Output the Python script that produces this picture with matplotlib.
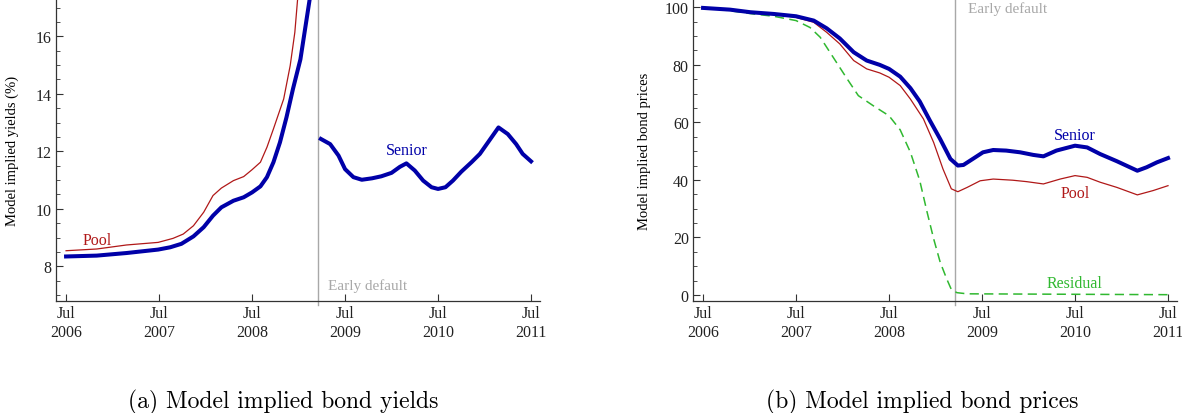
import numpy as np
import matplotlib.pyplot as plt
from matplotlib.ticker import MultipleLocator

# --- Data (decimal years, Jul = .5) ---
default_date = 2009.21

# (a) yields, %
pool_yield_t = [2006.50, 2006.83, 2007.15, 2007.49, 2007.65, 2007.76, 2007.87, 2007.98,
                2008.08, 2008.17, 2008.30, 2008.41, 2008.50, 2008.59, 2008.66, 2008.73,
                2008.84, 2008.91, 2008.96, 2008.99, 2009.03]
pool_yield = [8.54, 8.60, 8.74, 8.83, 8.97, 9.12, 9.41, 9.88,
              10.46, 10.72, 10.98, 11.12, 11.36, 11.62, 12.14, 12.78,
              13.82, 14.98, 16.14, 17.30, 18.6]

senior_yield_t = [2006.50, 2006.83, 2007.15, 2007.49, 2007.62, 2007.74, 2007.87, 2007.98,
                  2008.08, 2008.17, 2008.30, 2008.41, 2008.50, 2008.59, 2008.66, 2008.73,
                  2008.80, 2008.87, 2008.94, 2009.02, 2009.12, 2009.16]
senior_yield = [8.34, 8.37, 8.46, 8.58, 8.66, 8.78, 9.04, 9.36,
                9.76, 10.05, 10.28, 10.40, 10.57, 10.78, 11.10, 11.62,
                12.31, 13.18, 14.17, 15.20, 17.30, 18.5]

senior_yield_post_t = [2009.24, 2009.34, 2009.43, 2009.50, 2009.59, 2009.68, 2009.79, 2009.89,
                       2010.00, 2010.09, 2010.16, 2010.25, 2010.34, 2010.43, 2010.50, 2010.58,
                       2010.66, 2010.75, 2010.86, 2010.95, 2011.05, 2011.15, 2011.25, 2011.34,
                       2011.41, 2011.50]
senior_yield_post = [12.43, 12.25, 11.85, 11.38, 11.10, 11.01, 11.06, 11.13,
                     11.25, 11.46, 11.58, 11.33, 10.98, 10.75, 10.69, 10.75,
                     10.98, 11.29, 11.62, 11.91, 12.37, 12.83, 12.60, 12.25,
                     11.91, 11.65]

# (b) prices
senior_price_t = [2006.50, 2006.79, 2007.01, 2007.26, 2007.50, 2007.69, 2007.83, 2007.97,
                  2008.12, 2008.26, 2008.40, 2008.50, 2008.62, 2008.73, 2008.83, 2008.94,
                  2009.05, 2009.16, 2009.24, 2009.30, 2009.41, 2009.51, 2009.62, 2009.76,
                  2009.91, 2010.05, 2010.16, 2010.30, 2010.50, 2010.63, 2010.77, 2010.95,
                  2011.17, 2011.27, 2011.38, 2011.50]
senior_price = [99.8, 99.2, 98.3, 97.7, 96.9, 95.4, 92.7, 89.2,
                84.4, 81.5, 80.0, 78.6, 75.9, 71.9, 67.3, 60.6,
                54.2, 47.3, 45.0, 45.2, 47.5, 49.6, 50.4, 50.2,
                49.6, 48.7, 48.2, 50.2, 51.9, 51.3, 49.0, 46.5,
                43.2, 44.4, 46.1, 47.6]

pool_price_t = [2006.50, 2006.79, 2007.26, 2007.50, 2007.69, 2007.83, 2007.97, 2008.12,
                2008.26, 2008.40, 2008.50, 2008.62, 2008.73, 2008.87, 2008.98, 2009.08,
                2009.17, 2009.24, 2009.34, 2009.48, 2009.62, 2009.83, 2009.98, 2010.16,
                2010.34, 2010.50, 2010.63, 2010.77, 2010.95, 2011.17, 2011.34, 2011.50]
pool_price = [99.8, 99.2, 97.7, 96.5, 94.8, 91.3, 87.3, 81.5,
              78.6, 77.2, 75.7, 72.8, 68.1, 61.2, 53.0, 43.8,
              36.9, 35.9, 37.4, 39.7, 40.3, 39.9, 39.4, 38.6,
              40.3, 41.5, 40.9, 39.2, 37.4, 34.8, 36.3, 38.0]

residual_price_t = [2006.50, 2006.79, 2007.04, 2007.26, 2007.50, 2007.65, 2007.76, 2007.90,
                    2008.05, 2008.17, 2008.33, 2008.50, 2008.62, 2008.73, 2008.83, 2008.91,
                    2008.98, 2009.05, 2009.12, 2009.17, 2009.23, 2009.34, 2011.50]
residual_price = [100.0, 98.8, 97.7, 96.9, 95.4, 93.0, 89.6, 82.6,
                  75.1, 69.3, 65.8, 62.3, 57.4, 49.6, 39.8, 28.7,
                  19.5, 11.4, 5.6, 1.9, 0.8, 0.4, 0.1]

tick_years = [2006, 2007, 2008, 2009, 2010, 2011]

# --- Style ---
blue = "#0000a8"
red = "#b01818"
green = "#30b830"
gray = "#a8a8a8"
axis_col = "#333333"
serif = "Liberation Serif"

fig = plt.figure(figsize=(11.82, 4.14), dpi=100)
ax1 = fig.add_axes([0.0474, 0.2705, 0.4095, 0.7295])
ax2 = fig.add_axes([0.5863, 0.2705, 0.4095, 0.7295])


def style_axis(ax):
    for s in ["top", "right"]:
        ax.spines[s].set_visible(False)
    for s in ["left", "bottom"]:
        ax.spines[s].set_color(axis_col)
        ax.spines[s].set_linewidth(0.9)
    ax.set_xlim(2006.392, 2011.597)
    ax.set_xticks([y + 0.5 for y in tick_years])
    ax.set_xticklabels([f"Jul\n{y}" for y in tick_years])
    ax.tick_params(axis="both", which="both", direction="in", color=axis_col,
                   labelsize=11.5, labelcolor="#222222")
    ax.tick_params(axis="x", which="major", length=5, pad=3)
    ax.tick_params(axis="y", which="major", length=5, pad=3)
    ax.tick_params(axis="y", which="minor", length=3)
    for lab in ax.get_xticklabels():
        lab.set_fontfamily(serif)
        lab.set_linespacing(1.2)
    for lab in ax.get_yticklabels():
        lab.set_fontfamily(serif)
    ax.axvline(default_date, ymin=-0.012, ymax=1, color=gray, lw=1.0,
               clip_on=False, zorder=1)


# (a) yields
ax1.plot(pool_yield_t, pool_yield, color=red, lw=0.9, zorder=3)
ax1.plot(senior_yield_t, senior_yield, color=blue, lw=2.9, zorder=4)
ax1.plot(senior_yield_post_t, senior_yield_post, color=blue, lw=2.9, zorder=4)
ax1.set_ylim(6.79, 17.3)
ax1.yaxis.set_major_locator(MultipleLocator(2))
ax1.yaxis.set_minor_locator(MultipleLocator(0.5))
style_axis(ax1)
ax1.set_ylabel("Model implied yields (%)", fontfamily=serif, fontsize=10.5, labelpad=12)
ax1.text(2006.83, 8.9, "Pool", color=red, fontfamily=serif, fontsize=11.5, ha="center", va="center")
ax1.text(2010.16, 12.05, "Senior", color=blue, fontfamily=serif, fontsize=11.5, ha="center", va="center")
ax1.text(default_date + 0.11, 7.33, "Early default", color=gray, fontfamily=serif,
         fontsize=11, ha="left", va="center")

# (b) prices
ax2.plot(residual_price_t, residual_price, color=green, lw=1.1, dashes=(6, 3.5), zorder=2)
ax2.plot(pool_price_t, pool_price, color=red, lw=0.9, zorder=3)
ax2.plot(senior_price_t, senior_price, color=blue, lw=2.9, zorder=4)
ax2.set_ylim(-2.1, 102.9)
ax2.yaxis.set_major_locator(MultipleLocator(20))
ax2.yaxis.set_minor_locator(MultipleLocator(5))
style_axis(ax2)
ax2.set_ylabel("Model implied bond prices", fontfamily=serif, fontsize=10.5, labelpad=10)
ax2.text(2010.5, 55.6, "Senior", color=blue, fontfamily=serif, fontsize=11.5, ha="center", va="center")
ax2.text(2010.5, 35.4, "Pool", color=red, fontfamily=serif, fontsize=11.5, ha="center", va="center")
ax2.text(2010.5, 4.0, "Residual", color=green, fontfamily=serif, fontsize=11.5, ha="center", va="center")
ax2.text(default_date + 0.14, 99.8, "Early default", color=gray, fontfamily=serif,
         fontsize=11, ha="left", va="center")

# captions
fig.text(283 / 1182, 6 / 414, "(a) Model implied bond yields", fontfamily="cmr10",
         fontsize=17, ha="center", va="baseline")
fig.text(922 / 1182, 6 / 414, "(b) Model implied bond prices", fontfamily="cmr10",
         fontsize=17, ha="center", va="baseline")

fig.savefig("out.png", dpi=100)
